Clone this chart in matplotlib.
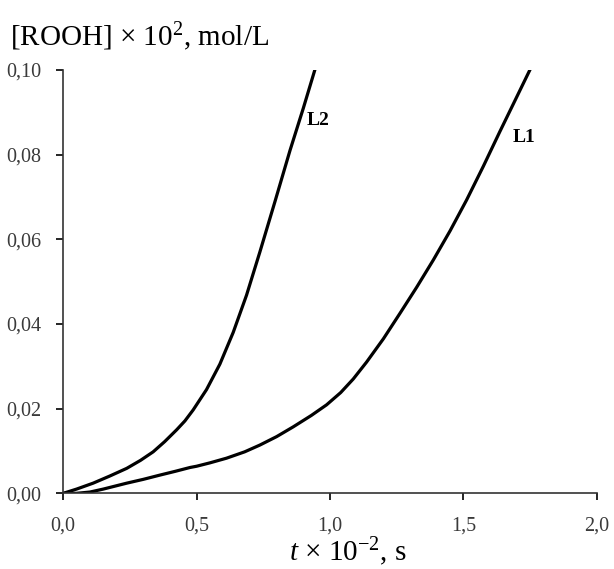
"""Hydroperoxide accumulation curves L1 and L2"""
import matplotlib
matplotlib.use("Agg")
from matplotlib import pyplot as plt

plt.rcParams['font.family'] = ['Liberation Serif', 'DejaVu Serif']
plt.rcParams['mathtext.fontset'] = 'custom'
plt.rcParams['mathtext.rm'] = 'Liberation Serif'
plt.rcParams['mathtext.it'] = 'Liberation Serif:italic'

## values (t x 10^-2 s, [ROOH] x 10^2 mol/L)
t_L2 = [0.0, 0.05, 0.112, 0.175, 0.238, 0.29, 0.337, 0.38, 0.425, 0.456,
        0.487, 0.537, 0.587, 0.637, 0.687, 0.737, 0.794, 0.85, 0.90, 0.943]
rooh_L2 = [0.0, 0.0010, 0.0024, 0.0041, 0.0059, 0.0078, 0.0098, 0.0122,
           0.0150, 0.0171, 0.0197, 0.0245, 0.0305, 0.0380, 0.0468, 0.0570,
           0.0690, 0.0810, 0.0910, 0.100]

t_L1 = [0.0, 0.05, 0.1, 0.15, 0.238, 0.30, 0.362, 0.42, 0.475, 0.5,
        0.55, 0.612, 0.68, 0.737, 0.80, 0.862, 0.93, 0.987, 1.04, 1.087,
        1.137, 1.20, 1.262, 1.325, 1.387, 1.45, 1.512, 1.575, 1.637,
        1.695, 1.749]
rooh_L1 = [0.0, 0.0, 0.0003, 0.0010, 0.0024, 0.0033, 0.0043, 0.0052,
           0.0061, 0.0064, 0.0072, 0.0083, 0.0098, 0.0114, 0.0134, 0.0157,
           0.0184, 0.0209, 0.0238, 0.0270, 0.0310, 0.0365, 0.0425, 0.0487,
           0.0551, 0.0620, 0.0693, 0.0773, 0.0855, 0.0930, 0.100]

x_ticks = [0.0, 0.5, 1.0, 1.5, 2.0]
x_tick_labels = ["0,0", "0,5", "1,0", "1,5", "2,0"]
y_ticks = [0.0, 0.02, 0.04, 0.06, 0.08, 0.10]
y_tick_labels = ["0,00", "0,02", "0,04", "0,06", "0,08", "0,10"]

fig = plt.figure(figsize=(6.14, 5.69), dpi=100)
ax = fig.add_axes([0.103, 0.133, 0.869, 0.744])

ax.plot(t_L2, rooh_L2, color="black", lw=2.3, solid_joinstyle="round")
ax.plot(t_L1, rooh_L1, color="black", lw=2.3, solid_joinstyle="round")

ax.text(0.913, 0.088, "L2", fontsize=14, fontweight="bold", va="center")
ax.text(1.686, 0.084, "L1", fontsize=14, fontweight="bold", va="center")

ax.set_xlim(0, 2.0)
ax.set_ylim(0, 0.10)
ax.set_xticks(x_ticks)
ax.set_xticklabels(x_tick_labels)
ax.set_yticks(y_ticks)
ax.set_yticklabels(y_tick_labels)
ax.tick_params(axis="x", direction="out", length=5, width=1.2, pad=12,
               labelsize=14.5, labelcolor="#3a3a3a")
ax.tick_params(axis="y", direction="out", length=5, width=1.2, pad=11,
               labelsize=14.5, labelcolor="#3a3a3a")
for side in ["top", "right"]:
    ax.spines[side].set_visible(False)
for side in ["left", "bottom"]:
    ax.spines[side].set_linewidth(1.2)
    ax.spines[side].set_color("#333333")

fig.text(0.016, 0.935, r"[ROOH] $\times$ 10$^{2}$, mol/L", fontsize=21,
         ha="left", va="center")
fig.text(0.567, 0.030, r"$t$ $\times$ 10$^{-2}$, s", fontsize=21,
         ha="center", va="center")

fig.savefig("out.png", dpi=100)
